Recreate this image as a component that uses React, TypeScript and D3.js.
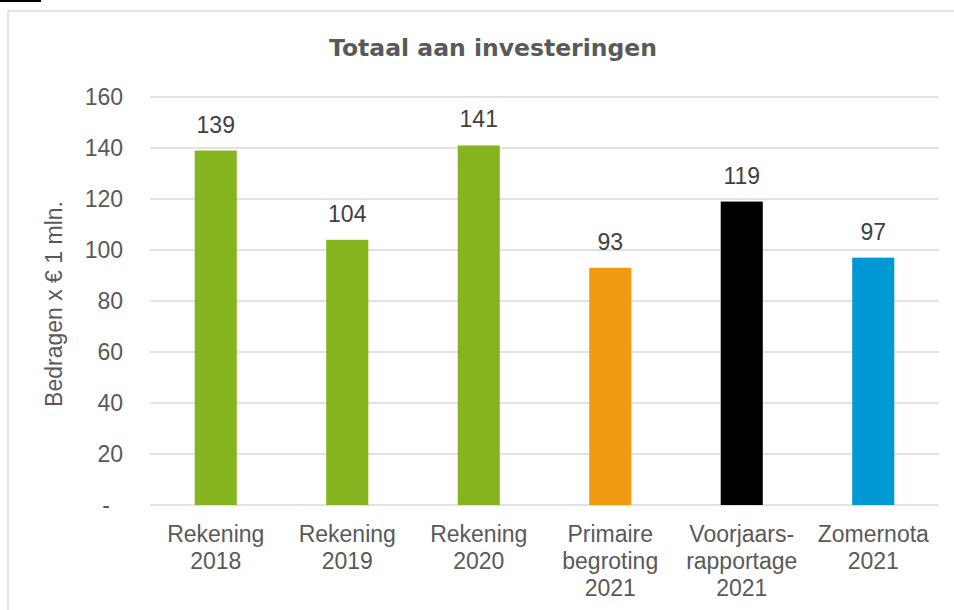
import React, { useEffect, useRef } from "react";
import * as d3 from "d3";

const categories: string[][] = [
  ["Rekening", "2018"],
  ["Rekening", "2019"],
  ["Rekening", "2020"],
  ["Primaire", "begroting", "2021"],
  ["Voorjaars-", "rapportage", "2021"],
  ["Zomernota", "2021"],
];
const values = [139, 104, 141, 93, 119, 97];
const barColors = ["#84b51e", "#84b51e", "#84b51e", "#f29b12", "#000000", "#0099d6"];
const yTicks = [0, 20, 40, 60, 80, 100, 120, 140, 160];

const W = 954;
const H = 610;
const margin = { left: 150, right: 15, top: 97, bottom: 105 };
const labelFont = "'Liberation Sans', Arial, sans-serif";

function BarChart() {
  const ref = useRef<SVGSVGElement | null>(null);

  useEffect(() => {
    const svg = d3.select(ref.current);
    svg.selectAll("*").remove();

    const x = d3
      .scaleBand<number>()
      .domain(values.map((_, i) => i))
      .range([margin.left, W - margin.right])
      .paddingInner(0.68)
      .paddingOuter(0.34);

    const y = d3
      .scaleLinear()
      .domain([0, 160])
      .range([H - margin.bottom, margin.top]);

    // chart frame
    svg
      .append("rect")
      .attr("x", 8)
      .attr("y", 11)
      .attr("width", 980)
      .attr("height", 640)
      .attr("fill", "white")
      .attr("stroke", "#d9d9d9")
      .attr("stroke-width", 1.5);

    svg.append("rect").attr("x", 0).attr("y", 0).attr("width", 41).attr("height", 2).attr("fill", "#000");

    // title
    svg
      .append("text")
      .attr("x", 493)
      .attr("y", 56)
      .attr("text-anchor", "middle")
      .attr("font-family", "'DejaVu Sans', Verdana, sans-serif")
      .attr("font-weight", "bold")
      .attr("font-size", 23.5)
      .attr("fill", "#595959")
      .text("Totaal aan investeringen");

    // gridlines
    svg
      .append("g")
      .selectAll("line")
      .data(yTicks)
      .join("line")
      .attr("x1", margin.left)
      .attr("x2", W - margin.right)
      .attr("y1", (d) => y(d))
      .attr("y2", (d) => y(d))
      .attr("stroke", "#d9d9d9")
      .attr("stroke-width", 1.5);

    // y tick labels
    svg
      .append("g")
      .selectAll("text")
      .data(yTicks)
      .join("text")
      .attr("x", (d) => (d === 0 ? 110 : 123))
      .attr("y", (d) => y(d))
      .attr("dy", "0.36em")
      .attr("text-anchor", "end")
      .attr("font-family", labelFont)
      .attr("font-size", 23)
      .attr("fill", "#595959")
      .text((d) => (d === 0 ? "-" : String(d)));

    // y axis title
    svg
      .append("text")
      .attr("transform", `translate(62,${(y(0) + y(160)) / 2 + 3}) rotate(-90)`)
      .attr("text-anchor", "middle")
      .attr("font-family", labelFont)
      .attr("font-size", 23)
      .attr("fill", "#595959")
      .text("Bedragen x € 1 mln.");

    // bars
    svg
      .append("g")
      .selectAll("rect")
      .data(values)
      .join("rect")
      .attr("x", (_, i) => x(i)!)
      .attr("y", (d) => y(d))
      .attr("width", x.bandwidth())
      .attr("height", (d) => y(0) - y(d))
      .attr("fill", (_, i) => barColors[i]);

    // value labels
    svg
      .append("g")
      .selectAll("text")
      .data(values)
      .join("text")
      .attr("x", (_, i) => x(i)! + x.bandwidth() / 2)
      .attr("y", (d) => y(d) - 18)
      .attr("text-anchor", "middle")
      .attr("font-family", labelFont)
      .attr("font-size", 23)
      .attr("fill", "#404040")
      .text((d) => String(d));

    // category labels
    const cat = svg
      .append("g")
      .selectAll("text")
      .data(categories)
      .join("text")
      .attr("text-anchor", "middle")
      .attr("font-family", labelFont)
      .attr("font-size", 23)
      .attr("fill", "#595959");

    cat
      .selectAll("tspan")
      .data((d, i) => d.map((line) => ({ line, i })))
      .join("tspan")
      .attr("x", (d) => x(d.i)! + x.bandwidth() / 2)
      .attr("y", (_, j) => y(0) + 37 + j * 27)
      .text((d) => d.line);

    return () => {
      svg.selectAll("*").remove();
    };
  }, []);

  return (
    <svg
      ref={ref}
      width={W}
      height={H}
      style={{ position: "absolute", left: 0, top: 0, background: "white" }}
    />
  );
}

export default function App() {
  return <BarChart />;
}
